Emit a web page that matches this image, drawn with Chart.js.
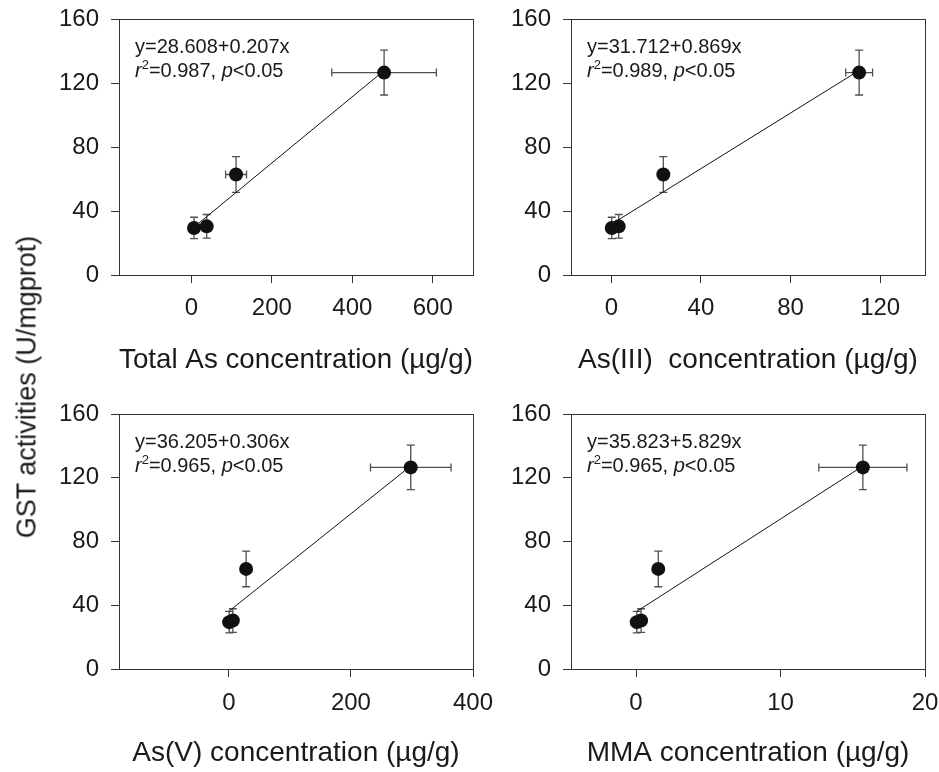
<!DOCTYPE html>
<html>
<head>
<meta charset="utf-8">
<script src="https://cdn.jsdelivr.net/npm/chart.js@4.4.0/dist/chart.umd.min.js"></script>
<style>
  html, body { margin: 0; padding: 0; background: #fff; }
  #wrap { position: relative; width: 939px; height: 772px; overflow: hidden; }
  canvas { position: absolute; }
  #ytitle {
    position: absolute; left: 27px; top: 387px;
    transform: translate(-50%, -50%) rotate(-90deg);
    font: 27px "Liberation Sans", Arial, sans-serif; color: #1a1a1a; white-space: nowrap;
  }
</style>
</head>
<body>
<div id="wrap">
  <canvas id="c1" width="500" height="390" style="left:0;top:0"></canvas>
  <canvas id="c2" width="439" height="390" style="left:500px;top:0"></canvas>
  <canvas id="c3" width="500" height="382" style="left:0;top:390px"></canvas>
  <canvas id="c4" width="439" height="382" style="left:500px;top:390px"></canvas>
  <div id="ytitle">GST activities (U/mgprot)</div>
</div>
<script>
// GST activity (same four groups in every panel)
const gst = [29.4, 30.4, 62.8, 126.5];
const gstErr = [6.7, 7.4, 11.2, 14];

// arsenic concentrations (µg/g) per panel
const totalAs = [6.5, 38, 111, 479];
const totalAsErr = [0, 0, 26, 130];
const as3 = [0.2, 3.3, 23.2, 110.6];
const as3Err = [0, 0, 2, 6];
const as5 = [0.5, 6.5, 28.3, 298];
const as5Err = [0, 0, 0, 66];
const mma = [0.05, 0.35, 1.54, 15.7];
const mmaErr = [0, 0, 0, 3.05];

// regression fits
const intercepts = ['28.608', '31.712', '36.205', '35.823'];
const slopes = ['0.207', '0.869', '0.306', '5.829'];
const r2 = ['0.987', '0.989', '0.965', '0.965'];

const xTitles = ['Total As concentration (µg/g)', 'As(III)  concentration (µg/g)',
                 'As(V) concentration (µg/g)', 'MMA concentration (µg/g)'];
const xTicks = [[0, 200, 400, 600], [0, 40, 80, 120], [0, 200, 400], [0, 10, 20]];
const xMin = [-180, -18, -180, -4.5];
const xMax = [700, 140, 400, 20];
const yTicks = [0, 40, 80, 120, 160];

const FONT = '"Liberation Sans", Arial, sans-serif';
const AXIS = '#333';
const TEXT = '#1a1a1a';

function errorBars(xs, xe) {
  return {
    id: 'errorBars',
    beforeDatasetsDraw(chart) {
      const {ctx, scales: {x, y}} = chart;
      ctx.save();
      ctx.strokeStyle = '#505050';
      ctx.lineWidth = 1.3;
      const cap = 4;
      xs.forEach((v, i) => {
        const px = x.getPixelForValue(v);
        const py = y.getPixelForValue(gst[i]);
        ctx.beginPath();
        const t = y.getPixelForValue(gst[i] + gstErr[i]);
        const b = y.getPixelForValue(gst[i] - gstErr[i]);
        ctx.moveTo(px, t); ctx.lineTo(px, b);
        ctx.moveTo(px - cap, t); ctx.lineTo(px + cap, t);
        ctx.moveTo(px - cap, b); ctx.lineTo(px + cap, b);
        if (xe[i]) {
          const l = x.getPixelForValue(v - xe[i]);
          const r = x.getPixelForValue(v + xe[i]);
          ctx.moveTo(l, py); ctx.lineTo(r, py);
          ctx.moveTo(l, py - cap); ctx.lineTo(l, py + cap);
          ctx.moveTo(r, py - cap); ctx.lineTo(r, py + cap);
        }
        ctx.stroke();
      });
      ctx.restore();
    }
  };
}

function equationLabel(k) {
  return {
    id: 'equation',
    afterDraw(chart) {
      const {ctx, chartArea} = chart;
      const x0 = chartArea.left + 16;
      ctx.save();
      ctx.fillStyle = TEXT;
      ctx.textBaseline = 'alphabetic';
      ctx.font = '20px ' + FONT;
      ctx.fillText('y=' + intercepts[k] + '+' + slopes[k] + 'x', x0, chartArea.top + 34);
      const yb = chartArea.top + 58;
      const parts = [['italic 20px', 'r', 0], ['13px', '2', -8], ['20px', '=' + r2[k] + ', ', 0],
                     ['italic 20px', 'p', 0], ['20px', '<0.05', 0]];
      let x = x0;
      parts.forEach(([f, t, dy]) => {
        ctx.font = f + ' ' + FONT;
        ctx.fillText(t, x, yb + dy);
        x += ctx.measureText(t).width;
      });
      ctx.restore();
    }
  };
}

function makePanel(id, k, xs, xe, geo) {
  const lo = Math.min(...xs), hi = Math.max(...xs);
  const fit = v => parseFloat(intercepts[k]) + parseFloat(slopes[k]) * v;
  new Chart(document.getElementById(id), {
    type: 'scatter',
    data: {
      datasets: [
        { data: xs.map((v, i) => ({x: v, y: gst[i]})), pointRadius: 7, pointBorderWidth: 0,
          backgroundColor: '#111', borderColor: '#111' },
        { data: [{x: lo, y: fit(lo)}, {x: hi, y: fit(hi)}], showLine: true, pointRadius: 0,
          borderColor: '#111', borderWidth: 1 }
      ]
    },
    options: {
      responsive: false,
      animation: false,
      devicePixelRatio: 1,
      layout: { padding: { top: geo.top, right: geo.right, left: 0, bottom: 0 } },
      plugins: { legend: { display: false }, tooltip: { enabled: false } },
      scales: {
        x: {
          type: 'linear', position: 'bottom', min: xMin[k], max: xMax[k],
          afterBuildTicks: s => { s.ticks = xTicks[k].map(v => ({value: v})); },
          afterFit: s => { s.height = geo.xh; s.paddingLeft = 0; s.paddingRight = 0; },
          grid: { drawOnChartArea: false, tickLength: 8, color: AXIS },
          border: { color: AXIS },
          ticks: { font: { family: FONT, size: 24 }, color: TEXT, padding: geo.tp, maxRotation: 0 },
          title: { display: true, text: xTitles[k], color: TEXT, font: { family: FONT, size: 28 },
                   padding: { top: 0, bottom: geo.pb } }
        },
        y: {
          type: 'linear', position: 'left', min: 0, max: 160,
          afterBuildTicks: s => { s.ticks = yTicks.map(v => ({value: v})); },
          afterFit: s => { s.width = geo.yw; s.paddingTop = 0; s.paddingBottom = 0; },
          grid: { drawOnChartArea: false, tickLength: 8, color: AXIS },
          border: { color: AXIS },
          ticks: { font: { family: FONT, size: 24 }, color: TEXT, padding: 12 }
        },
        x2: {
          type: 'linear', position: 'top', min: xMin[k], max: xMax[k],
          afterFit: s => { s.height = 0; s.paddingLeft = 0; s.paddingRight = 0; },
          grid: { drawOnChartArea: false, drawTicks: false },
          border: { color: AXIS },
          ticks: { display: false }
        },
        y2: {
          type: 'linear', position: 'right', min: 0, max: 160,
          afterFit: s => { s.width = 0; s.paddingTop = 0; s.paddingBottom = 0; },
          grid: { drawOnChartArea: false, drawTicks: false },
          border: { color: AXIS },
          ticks: { display: false }
        }
      }
    },
    plugins: [errorBars(xs, xe), equationLabel(k)]
  });
}

makePanel('c1', 0, totalAs, totalAsErr, { top: 19, right: 27, yw: 119, xh: 115, tp: 11, pb: 13 });
makePanel('c2', 1, as3, as3Err, { top: 19, right: 14, yw: 71, xh: 115, tp: 11, pb: 13 });
makePanel('c3', 2, as5, as5Err, { top: 24, right: 27, yw: 119, xh: 103, tp: 12, pb: 2 });
makePanel('c4', 3, mma, mmaErr, { top: 24, right: 14, yw: 71, xh: 103, tp: 12, pb: 2 });
</script>
</body>
</html>
